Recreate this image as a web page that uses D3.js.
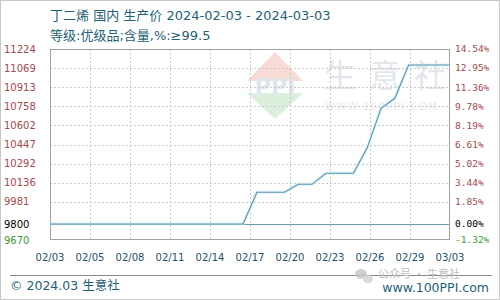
<!DOCTYPE html>
<html><head><meta charset="utf-8">
<script src="https://cdn.jsdelivr.net/npm/d3@7/dist/d3.min.js"></script>
<style>
html,body{margin:0;padding:0;background:#fff;}
svg{display:block;}
</style>
</head><body>
<svg id="chart" width="500" height="300"></svg>
<script>
const titleLine1 = "丁二烯 国内 生产价 2024-02-03 - 2024-03-03";
const titleLine2 = "等级:优级品;含量,%:≥99.5";
const dates = ["2024-02-03","2024-02-04","2024-02-05","2024-02-06","2024-02-07","2024-02-08","2024-02-09","2024-02-10","2024-02-11","2024-02-12","2024-02-13","2024-02-14","2024-02-15","2024-02-16","2024-02-17","2024-02-18","2024-02-19","2024-02-20","2024-02-21","2024-02-22","2024-02-23","2024-02-24","2024-02-25","2024-02-26","2024-02-27","2024-02-28","2024-02-29","2024-03-01","2024-03-02","2024-03-03"];
const prices = [9800,9800,9800,9800,9800,9800,9800,9800,9800,9800,9800,9800,9800,9800,9800,10058,10058,10058,10123,10123,10213,10213,10213,10420,10742,10823,11094,11094,11094,11094];
const baseValue = 9800;
const yDomain = [9670, 11224];
const leftTicks = [9670, 9800, 9981, 10136, 10292, 10447, 10602, 10758, 10913, 11069, 11224];
const rightTicks = ["-1.32%","0.00%","1.85%","3.44%","5.02%","6.61%","8.19%","9.78%","11.36%","12.95%","14.54%"];
const gridTicks = [9981, 10136, 10292, 10447, 10602, 10758, 10913, 11069];
const xTickLabels = ["02/03","02/05","02/08","02/11","02/14","02/17","02/20","02/23","02/26","02/29","03/03"];
const watermarkChars = ["生","意","社"];

const svg = d3.select("#chart");
const L = 50, R = 450, T = 49, B = 240;
const parse = d3.timeParse("%Y-%m-%d");
const data = dates.map((d,i)=>({date: parse(d), v: prices[i]}));

const x = d3.scaleTime().domain(d3.extent(data, d=>d.date)).range([L, R]);
const xl = d3.scalePoint().domain(xTickLabels).range([L, R]);
const y = d3.scaleLinear().domain(yDomain).range([B, T]);

const sans = "'DejaVu Sans', Verdana, sans-serif";

// outer border
svg.append("rect").attr("x",0.5).attr("y",0.5).attr("width",499).attr("height",299)
  .attr("fill","none").attr("stroke","#c8c8c8");

// watermark
const wm = svg.append("g");
const cx = 275, cy = 85;
wm.append("path").attr("d", `M${cx-28},${cy-4} L${cx},${cy-33} L${cx+28},${cy-4} Z`).attr("fill","#f7dcd6");
wm.append("path").attr("d", `M${cx-28},${cy+8} L${cx},${cy+34} L${cx+28},${cy+8} Z`).attr("fill","#dcefdc");
wm.append("text").attr("x",cx).attr("y",cy+9).attr("text-anchor","middle")
  .attr("font-family",sans).attr("font-weight","bold").attr("font-size",22)
  .attr("fill","#dfe5ee").text("PPI");
const wmx = d3.scalePoint().domain(watermarkChars).range([324, 414]);
wm.selectAll("text.wc").data(watermarkChars).join("text").attr("class","wc")
  .attr("x",d=>wmx(d)).attr("y",87).attr("font-family","'Noto Sans CJK SC', sans-serif")
  .attr("font-size",32).attr("fill","#e3e7ec").text(d=>d);
wm.append("text").attr("x",325).attr("y",110).attr("font-family",sans)
  .attr("font-size",10).attr("letter-spacing",1.5).attr("fill","#e6e9ee").text("WWW.100PPI.COM");

// grid
const grid = svg.append("g").attr("stroke","#c9c9c9").attr("stroke-dasharray","2,2").attr("stroke-width",1);
grid.selectAll("line.h").data(gridTicks).join("line")
  .attr("x1",L).attr("x2",R).attr("y1",d=>Math.round(y(d))+0.5).attr("y2",d=>Math.round(y(d))+0.5);
grid.selectAll("line.v").data(xTickLabels.slice(1,-1)).join("line")
  .attr("y1",T).attr("y2",B).attr("x1",d=>Math.round(xl(d))+0.5).attr("x2",d=>Math.round(xl(d))+0.5);

// baseline
svg.append("line").attr("x1",L).attr("x2",R)
  .attr("y1",Math.round(y(baseValue))+0.5).attr("y2",Math.round(y(baseValue))+0.5)
  .attr("stroke","#6f98a8").attr("stroke-width",1);

// plot border
svg.append("rect").attr("x",L+0.5).attr("y",T+0.5).attr("width",R-L-1).attr("height",B-T-1)
  .attr("fill","none").attr("stroke","#a0a0a0");

// line
const line = d3.line().x(d=>x(d.date)).y(d=>y(d.v));
svg.append("path").datum(data).attr("d",line).attr("fill","none")
  .attr("stroke","#cdeef8").attr("stroke-width",3).attr("opacity",0.7);
svg.append("path").datum(data).attr("d",line).attr("fill","none")
  .attr("stroke","#5a94ab").attr("stroke-width",1.1);

// left labels
const colorFor = (i)=> i===0 ? "#3c9a3c" : (i===1 ? "#000" : "#a8484c");
svg.append("g").selectAll("text").data(leftTicks).join("text")
  .attr("x",4).attr("y",d=>y(d)).attr("dy","0.35em")
  .attr("font-family",sans).attr("font-size",10)
  .attr("fill",(d,i)=>colorFor(i)).text(d=>d);

// right labels
svg.append("g").selectAll("text").data(rightTicks).join("text")
  .attr("x",455).attr("y",(d,i)=>y(leftTicks[i])).attr("dy","0.35em")
  .attr("font-family","'DejaVu Sans Mono', 'Liberation Mono', monospace").attr("font-size",9.5)
  .attr("fill",(d,i)=>colorFor(i)).text(d=>d);

// x labels
svg.append("g").selectAll("text").data(xTickLabels).join("text")
  .attr("x",d=>xl(d)).attr("y",261).attr("text-anchor","middle")
  .attr("font-family",sans).attr("font-size",10).attr("fill","#1f4f66").text(d=>d);

// titles
const cjk = "'DejaVu Sans', 'Noto Sans CJK SC', sans-serif";
svg.append("text").attr("x",50).attr("y",20).attr("font-family",cjk).attr("font-size",13)
  .attr("fill","#1f5f78").text(titleLine1);
svg.append("text").attr("x",50).attr("y",40).attr("font-family",cjk).attr("font-size",13)
  .attr("fill","#1f5f78").text(titleLine2);

// footer
svg.append("line").attr("x1",10).attr("x2",492).attr("y1",275.5).attr("y2",275.5)
  .attr("stroke","#8a8a8a");
svg.append("text").attr("x",10).attr("y",290).attr("font-family",cjk).attr("font-size",12.5)
  .attr("fill","#1f5f78").text("© 2024.03 生意社");
// wechat watermark
const wg = svg.append("g").attr("fill","#c4c4c4").attr("opacity",0.8);
wg.append("ellipse").attr("cx",361).attr("cy",274).attr("rx",6).attr("ry",5);
wg.append("ellipse").attr("cx",368).attr("cy",279).attr("rx",5).attr("ry",4.2).attr("fill","#d2d2d2");
svg.append("text").attr("x",378).attr("y",278).attr("font-family","'Noto Sans CJK SC', sans-serif")
  .attr("font-size",11).attr("fill","#c0c0c0").text("公众号 · 生意社");
svg.append("text").attr("x",489).attr("y",292).attr("text-anchor","end").attr("font-family",sans)
  .attr("font-size",12.5).attr("fill","#1f5f78").text("www.100PPI.com");
</script>
</body></html>
